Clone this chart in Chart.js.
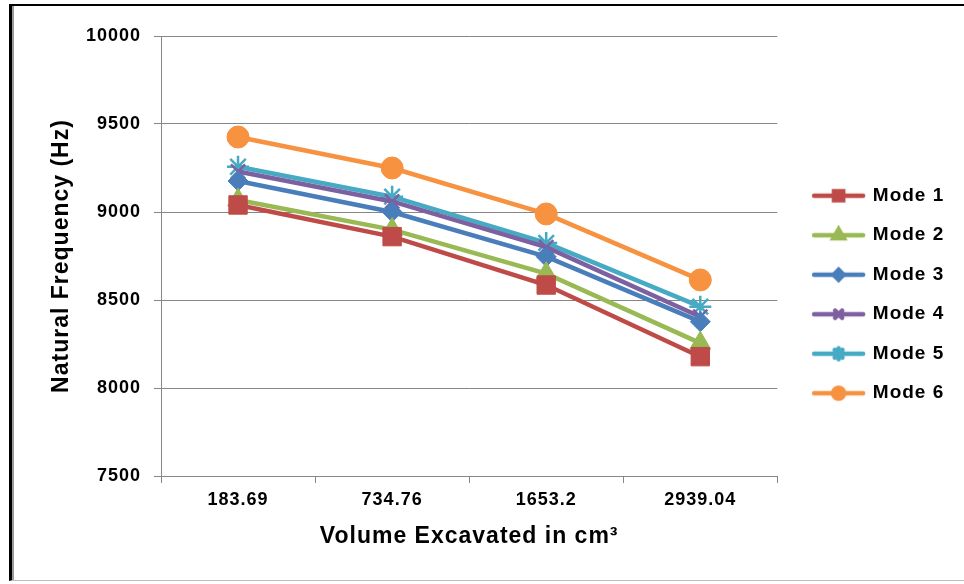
<!DOCTYPE html>
<html>
<head>
<meta charset="utf-8">
<script src="https://cdn.jsdelivr.net/npm/chart.js@4.4.1/dist/chart.umd.min.js"></script>
<style>
  html, body { margin: 0; padding: 0; background: #fff; }
  #wrap { position: relative; width: 964px; height: 584px; overflow: hidden; }
  #frame { position: absolute; left: 9px; top: 4px; width: 1000px; height: 577px;
           border-left: 3px solid #000; border-top: 2px solid #000; border-bottom: 1px solid #bdbdbd;
           box-shadow: inset 2px 0 0 #9a9a9a; box-sizing: border-box; }
  canvas { position: absolute; left: 0; top: 0; }
</style>
</head>
<body>
<div id="wrap">
  <div id="frame"></div>
  <canvas id="c" width="964" height="584"></canvas>
</div>
<script>
const categories = ['183.69', '734.76', '1653.2', '2939.04'];
const seriesNames = ['Mode 1', 'Mode 2', 'Mode 3', 'Mode 4', 'Mode 5', 'Mode 6'];
const mode1 = [9040, 8860, 8585, 8178];
const mode2 = [9068, 8900, 8650, 8255];
const mode3 = [9176, 9000, 8746, 8377];
const mode4 = [9230, 9060, 8800, 8405];
const mode5 = [9257, 9087, 8824, 8462];
const mode6 = [9426, 9250, 8989, 8614];
const yTicks = [7500, 8000, 8500, 9000, 9500, 10000];

const colors = ['#BE4B48', '#98B954', '#4A7EBB', '#7D60A0', '#46AAC5', '#F69240'];
const styles = ['rect', 'triangle', 'rectRot', 'crossRot', 'star', 'circle'];
const radii = [13, 12, 10, 10, 11, 11];
const legendRadii = [6.5, 6, 5, 5, 5.5, 5.5];
const values = [mode1, mode2, mode3, mode4, mode5, mode6];

function legendImage(i) {
  const cv = document.createElement('canvas');
  cv.width = 55; cv.height = 20;
  const g = cv.getContext('2d');
  g.strokeStyle = colors[i];
  g.lineWidth = 4.5;
  g.lineCap = 'round';
  g.beginPath(); g.moveTo(3, 10); g.lineTo(52, 10); g.stroke();
  g.fillStyle = colors[i];
  g.strokeStyle = colors[i];
  Chart.helpers.drawPoint(g, {pointStyle: styles[i], radius: legendRadii[i], borderWidth: 1.5, rotation: 0}, 27.5, 10);
  return cv;
}

const datasets = values.map((v, i) => ({
  label: seriesNames[i],
  data: v,
  borderColor: colors[i],
  backgroundColor: colors[i],
  borderWidth: 4.5,
  pointStyle: styles[i],
  pointRadius: radii[i],
  pointBorderWidth: (styles[i] === 'crossRot' || styles[i] === 'star') ? 2.5 : 1,
  pointBorderColor: colors[i],
  pointBackgroundColor: colors[i],
  tension: 0,
  fill: false
}));

const spacing = {
  id: 'spacing',
  beforeLayout(c) { c.ctx.letterSpacing = '1px'; },
  beforeDraw(c) { c.ctx.letterSpacing = '1px'; }
};

const FONT = "'Liberation Sans', Arial, sans-serif";

new Chart(document.getElementById('c'), {
  type: 'line',
  data: { labels: categories, datasets },
  plugins: [spacing],
  options: {
    responsive: false,
    animation: false,
    events: [],
    layout: { padding: { top: 36, right: 12, bottom: 31, left: 0 } },
    plugins: {
      tooltip: { enabled: false },
      legend: {
        position: 'right',
        align: 'center',
        labels: {
          usePointStyle: true,
          pointStyleWidth: 49.5,
          padding: 20.5,
          color: '#000',
          font: { family: FONT, size: 19, weight: 'bold' },
          generateLabels(chart) {
            return chart.data.datasets.map((d, i) => ({
              text: d.label,
              pointStyle: legendImage(i),
              fillStyle: colors[i],
              strokeStyle: colors[i],
              lineWidth: 0,
              hidden: false,
              datasetIndex: i,
              fontColor: '#000'
            }));
          }
        }
      }
    },
    scales: {
      x: {
        type: 'category',
        offset: true,
        grid: { display: true, drawOnChartArea: false, drawTicks: true, tickLength: 7, color: '#868686', offset: true },
        border: { display: true, color: '#868686', width: 1 },
        ticks: { color: '#000', padding: 6, font: { family: FONT, size: 18, weight: 'bold' }, maxRotation: 0 },
        title: { display: true, text: 'Volume Excavated in cm³', color: '#000',
                 font: { family: FONT, size: 23, weight: 'bold' }, padding: { top: 0, bottom: 3 } },
        afterFit(s) { s.height = 77; }
      },
      y: {
        min: 7500, max: 10000,
        afterBuildTicks(s) { s.ticks = yTicks.map(v => ({ value: v })); },
        grid: { color: '#868686', tickLength: 7, drawTicks: true },
        border: { display: true, color: '#868686', width: 1 },
        ticks: { color: '#000', padding: 13, font: { family: FONT, size: 18, weight: 'bold' },
                 callback: (v) => String(v) },
        title: { display: true, text: 'Natural Frequency (Hz)', color: '#000',
                 font: { family: FONT, size: 23, weight: 'bold' }, padding: { top: 48, bottom: 0 } },
        afterFit(s) { s.width = 161; }
      },
      gap: {
        position: 'right',
        display: true,
        grid: { display: false },
        border: { display: false },
        ticks: { display: false },
        afterFit(s) { s.width = 16; }
      }
    }
  }
});
</script>
</body>
</html>
